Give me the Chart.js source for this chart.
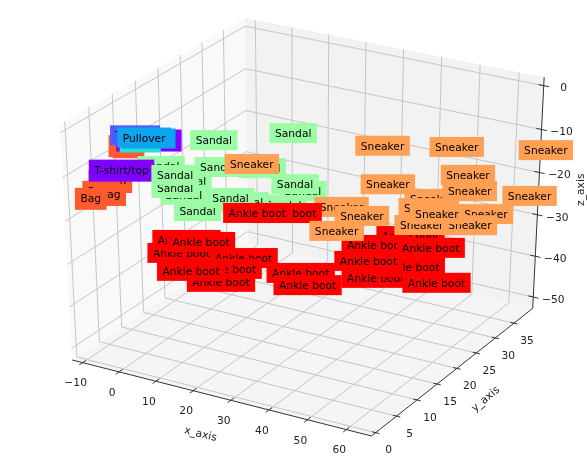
<!DOCTYPE html>
<html><head><meta charset="utf-8">
<style>html,body{margin:0;padding:0;background:#fff}canvas{display:block;filter:blur(0.5px)}</style>
<script src="https://cdn.jsdelivr.net/npm/chart.js@4"></script></head>
<body><canvas id="c" width="587" height="463"></canvas>
<script>
// ---- data: class of each annotated sample and its position in (x_axis, y_axis, z_axis) ----
const itemClass = ['Bag','Bag','Bag','Bag','Bag','Bag','Bag','T-shirt/top','Trouser','Dress','Pullover','Pullover',
 'Sandal','Sandal','Sandal','Sandal','Sandal','Sandal','T-shirt/top','Sandal','Sandal','Sandal','Sandal','Sandal','Sandal','Sandal','Sandal','Sandal',
 'Sneaker','Sneaker',
 'Ankle boot','Ankle boot','Ankle boot','Ankle boot','Ankle boot','Ankle boot','Ankle boot','Ankle boot','Ankle boot','Ankle boot','Ankle boot','Ankle boot','Ankle boot','Ankle boot','Ankle boot','Ankle boot','Ankle boot','Ankle boot',
 'Sneaker','Sneaker','Sneaker','Sneaker','Sneaker','Sneaker','Sneaker','Sneaker','Sneaker','Sneaker','Sneaker','Sneaker','Sneaker','Sneaker','Sneaker'];
const itemX = [-5.3,-5.5,-7.9,-9.8,-10.3,-8.4,-11.1,-4.5,-4.8,-3.6,-3.0,-4.2,-1.6,8.7,15.6,3.0,1.8,0.7,-8.3,0.8,7.7,20.4,22.9,20.8,18.8,12.1,4.1,10.6,13.1,
 28.8,5.9,0.3,0.5,3.2,9.8,7.8,1.5,20.5,21.2,18.3,12.5,39.9,32.8,43.2,32.9,40.1,32.0,43.9,35.1,48.1,64.2,36.6,32.0,44.0,43.5,54.2,51.1,42.5,45.4,27.5,50.2,50.8,61.5];
const itemY = [4,5,4,3,2,3,1,5,4,5,5,5,7,11,15,9,9,8,2,8,11,18,18,18,17,14,10,12,14,
 21,11,7,8,9,13,11,8,17,18,16,14,26,24,28,24,26,23,29,25,31,38,25,23,29,28,33,32,28,29,21,32,32,37];
const itemZ = [-5.4,-6.3,-14.0,-13.5,-15.4,-16.4,-16.5,-4.6,-3.1,-5.1,-4.1,-4.1,-11.3,-12.1,-13.6,-15.1,-18.5,-16.5,-10.2,-13.5,-6.2,-6.6,-19.4,-18.2,-22.8,-21.4,-22.5,-19.5,-12.5,
 -23.9,-39.5,-31.0,-28.6,-29.2,-34.4,-36.0,-35.7,-38.5,-42.0,-24.1,-23.9,-31.9,-34.1,-35.4,-42.0,-39.3,-37.4,-44.4,-11.1,-12.7,-14.8,-19.7,-26.7,-24.3,-25.9,-28.5,-31.1,-30.1,-27.6,-29.8,-19.4,-23.1,-25.4];
const classNames  = ['T-shirt/top','Trouser','Pullover','Dress','Sandal','Sneaker','Bag','Ankle boot'];
const classColors = ['#8000ff','#4f5bfa','#0da5ee','#2adddd','#9cfca5','#ffa055','#ff5a2e','#ff0000'];
const xTicks = [-10,0,10,20,30,40,50,60];
const yTicks = [0,5,10,15,20,25,30,35];
const zTicks = [0,-10,-20,-30,-40,-50];
const xLim = [-12.9,66.4], yLim = [-1,40.1], zLim = [-52.8,1.9];
const viewElev = 30, viewAzim = -60, viewDist = 10;

// ---- perspective projection from the 3D axes onto the 2D plane Chart.js scales ----
const e = viewElev*Math.PI/180, a = viewAzim*Math.PI/180;
const n = [Math.cos(e)*Math.cos(a), Math.cos(e)*Math.sin(a), Math.sin(e)];
const hyp = Math.hypot(n[0],n[1]);
const u = [-n[1]/hyp, n[0]/hyp, 0];
const v = [n[1]*u[2]-n[2]*u[1], n[2]*u[0]-n[0]*u[2], n[0]*u[1]-n[1]*u[0]];
function proj(x,y,z){
  const q = [(x-xLim[0])/(xLim[1]-xLim[0])-.5,(y-yLim[0])/(yLim[1]-yLim[0])-.5,(z-zLim[0])/(zLim[1]-zLim[0])-.5];
  const dot = w => w[0]*q[0]+w[1]*q[1]+w[2]*q[2];
  const s = viewDist/(viewDist-dot(n));
  return {x:dot(u)*s, y:dot(v)*s};
}
const [x0,x1]=xLim,[y0,y1]=yLim,[z0,z1]=zLim;
const gap = {x:NaN,y:NaN};
function segs(list){const o=[];list.forEach(s=>{o.push(proj(...s[0]),proj(...s[1]),gap);});return o;}
function poly(list){return list.map(p=>proj(...p));}
const gridSegs = [];
xTicks.forEach(t=>{gridSegs.push([[t,y0,z0],[t,y1,z0]],[[t,y1,z0],[t,y1,z1]]);});
yTicks.forEach(t=>{gridSegs.push([[x0,t,z0],[x1,t,z0]],[[x0,t,z0],[x0,t,z1]]);});
zTicks.forEach(t=>{gridSegs.push([[x0,y0,t],[x0,y1,t]],[[x0,y1,t],[x1,y1,t]]);});
const tickSegs = [];
xTicks.forEach(t=>{const d=(y1-y0)*.018;tickSegs.push([[t,y0-d,z0],[t,y0+d,z0]]);});
yTicks.forEach(t=>{const d=(x1-x0)*.012;tickSegs.push([[x1-d,t,z0],[x1+d,t,z0]]);});
zTicks.forEach(t=>{const d=(x1-x0)*.017;tickSegs.push([[x1-d,y1,t],[x1+d,y1,t]]);});

function line(data,color,w,order,fill){
  return {data,borderColor:color,borderWidth:w,pointRadius:0,showLine:true,tension:0,spanGaps:false,order,
    fill:fill?'shape':false,backgroundColor:fill||'transparent'};
}
const samples = itemX.map((x,i)=>Object.assign(proj(x,itemY[i],itemZ[i]),{name:itemClass[i]}));
const FONT = '10.7px "DejaVu Sans"';

const textPlugin = {
  id:'textPlugin',
  afterDatasetsDraw(chart){
    const g=chart.ctx, sx=chart.scales.x, sy=chart.scales.y;
    const at=p=>({x:sx.getPixelForValue(p.x),y:sy.getPixelForValue(p.y)});
    g.save();
    g.font=FONT; g.textBaseline='alphabetic'; g.textAlign='left';
    samples.forEach(s=>{
      const p=at(s), w=g.measureText(s.name).width;
      const desc=/[gp]/.test(s.name)?2:0;
      g.fillStyle=classColors[classNames.indexOf(s.name)];
      g.fillRect(p.x-5.5,p.y-14,w+11,20+desc);
      g.fillStyle='#000';
      g.fillText(s.name,p.x,p.y);
    });
    g.fillStyle='#222'; g.textAlign='center'; g.textBaseline='middle';
    xTicks.forEach(t=>{const p=at(proj(t,y0,z0));g.fillText(String(t).replace('-','\u2212'),p.x-7,p.y+21);});
    yTicks.forEach(t=>{const p=at(proj(x1,t,z0));g.fillText(String(t),p.x+13,p.y+18);});
    zTicks.forEach(t=>{const p=at(proj(x1,y1,t));g.fillText(String(t).replace('-','\u2212'),p.x+20,p.y+3);});
    const lab=(txt,x,y,deg)=>{g.save();g.translate(x,y);g.rotate(deg*Math.PI/180);g.fillText(txt,0,0);g.restore();};
    const xa=at(proj(27,y0,z0)), ya=at(proj(x1,21,z0)), za=at(proj(x1,y1,-25));
    lab('x_axis',xa.x-19,xa.y+37,14);
    lab('y_axis',ya.x+25,ya.y+34,-40);
    lab('z_axis',za.x+43,za.y-4,-90);
    g.restore();
  }
};

new Chart(document.getElementById('c'),{
  type:'scatter',
  data:{datasets:[
    line(poly([[x0,y0,z0],[x0,y1,z0],[x0,y1,z1],[x0,y0,z1],[x0,y0,z0]]),'transparent',0,9,'#f9f9f9'),
    line(poly([[x0,y1,z0],[x1,y1,z0],[x1,y1,z1],[x0,y1,z1],[x0,y1,z0]]),'transparent',0,9,'#f2f2f2'),
    line(poly([[x0,y0,z0],[x1,y0,z0],[x1,y1,z0],[x0,y1,z0],[x0,y0,z0]]),'transparent',0,9,'#f5f5f5'),
    line(segs(gridSegs),'#c6c6c6',1,5),
    line(segs([[[x0,y0,z0],[x1,y0,z0]],[[x1,y0,z0],[x1,y1,z0]],[[x1,y1,z0],[x1,y1,z1]]]),'#333',1,2),
    line(segs(tickSegs),'#333',1,1),
    {data:samples,pointRadius:0,showLine:false,order:0}
  ]},
  options:{
    responsive:false,animation:false,
    layout:{padding:0},
    plugins:{legend:{display:false},tooltip:{enabled:false},title:{display:false}},
    scales:{
      x:{type:'linear',display:false,min:-306/345.5,max:281/345.5},
      y:{type:'linear',display:false,min:-243.1/269.5,max:219.9/269.5}
    }
  },
  plugins:[textPlugin]
});
</script></body></html>
